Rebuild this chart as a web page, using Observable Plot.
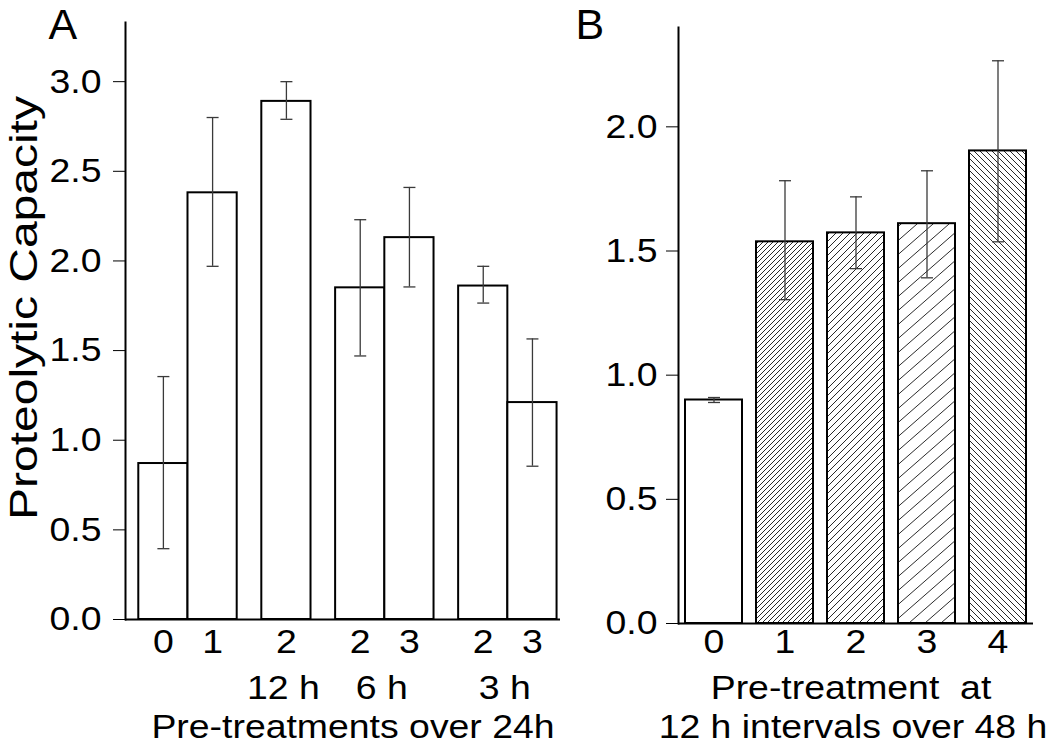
<!DOCTYPE html>
<html>
<head>
<meta charset="utf-8">
<script src="https://cdn.jsdelivr.net/npm/d3@7"></script>
<script src="https://cdn.jsdelivr.net/npm/@observablehq/plot@0.6"></script>
<style>
  body { margin: 0; background: #fff; }
  #wrap { position: relative; width: 1050px; height: 745px; overflow: hidden; background: #fff; }
  #wrap > svg { position: absolute; top: 0; }
</style>
</head>
<body>
<svg width="0" height="0" style="position:absolute">
  <defs>
    <pattern id="h-fine" patternUnits="userSpaceOnUse" width="5" height="5">
      <rect width="5" height="5" fill="#fff"/>
      <path d="M0,5L5,0M-1,1L1,-1M4,6L6,4" stroke="#111" stroke-width="0.9"/>
    </pattern>
    <pattern id="h-med" patternUnits="userSpaceOnUse" width="7" height="7">
      <rect width="7" height="7" fill="#fff"/>
      <path d="M0,7L7,0M-1,1L1,-1M6,8L8,6" stroke="#111" stroke-width="0.9"/>
    </pattern>
    <pattern id="h-wide" patternUnits="userSpaceOnUse" width="16" height="14">
      <rect width="16" height="14" fill="#fff"/>
      <path d="M0,14L16,0M-2,1.75L2,-1.75M14,15.75L18,12.25" stroke="#111" stroke-width="0.9"/>
    </pattern>
    <pattern id="h-back" patternUnits="userSpaceOnUse" width="6" height="6">
      <rect width="6" height="6" fill="#fff"/>
      <path d="M0,0L6,6M-1,5L1,7M5,-1L7,1" stroke="#111" stroke-width="0.9"/>
    </pattern>
  </defs>
</svg>
<div id="wrap"></div>
<script>
// ---------------- Data: panel A ----------------
const labelsA = ["0", "1", "2", "2", "3", "2", "3"];
const groupsA = ["", "", "12 h", "6 h", "6 h", "3 h", "3 h"];
const valuesA = [0.87, 2.38, 2.89, 1.85, 2.13, 1.86, 1.21];
const lowA    = [0.395, 1.97, 2.79, 1.47, 1.855, 1.765, 0.855];
const highA   = [1.355, 2.80, 3.00, 2.23, 2.41, 1.97, 1.565];
const yTicksA = [0, 0.5, 1.0, 1.5, 2.0, 2.5, 3.0];
const xTitleA = "Pre-treatments over 24h";
const yTitle  = "Proteolytic Capacity";

// ---------------- Data: panel B ----------------
const labelsB = ["0", "1", "2", "3", "4"];
const valuesB = [0.90, 1.537, 1.573, 1.61, 1.903];
const lowB    = [0.89, 1.304, 1.429, 1.392, 1.537];
const highB   = [0.91, 1.783, 1.718, 1.823, 2.266];
const yTicksB = [0, 0.5, 1.0, 1.5, 2.0];
const xTitleB1 = "Pre-treatment\u00a0 at";
const xTitleB2 = "12 h intervals over 48 h";

// ---------------- Styles ----------------
const FONT = "'Liberation Sans', Arial, Helvetica, sans-serif";
const ERR = "#3a3a3a";
const fillB = ["white", "url(#h-fine)", "url(#h-med)", "url(#h-wide)", "url(#h-back)"];
const capSym = { draw(ctx) { ctx.moveTo(-6, 0); ctx.lineTo(6, 0); } };

// Panel A slot layout: bars in the same group touch, half-bar gap between groups
let pos = 0;
const startA = groupsA.map((g, i) => {
  if (i > 0) pos += 1 + (g !== groupsA[i - 1] ? 0.5 : 0);
  return pos;
});
const dataA = labelsA.map((l, i) => ({
  label: l, group: groupsA[i], value: valuesA[i], lo: lowA[i], hi: highA[i],
  x1: startA[i], x2: startA[i] + 1, xc: startA[i] + 0.5
}));
const groupLabels = d3.groups(dataA.filter(d => d.group !== ""), d => d.group)
  .map(([g, arr]) => ({ group: g, xc: d3.mean(arr, d => d.xc) }));
const padA = 0.27;
const xDomA = [-padA, d3.max(dataA, d => d.x2) + 0.07];

const dataB = labelsB.map((l, i) => ({
  label: l, value: valuesB[i], lo: lowB[i], hi: highB[i], fill: fillB[i]
}));

const FS = "34px";

const plotA = Plot.plot({
  width: 565, height: 745,
  marginLeft: 125, marginRight: 5, marginTop: 22, marginBottom: 126,
  style: { fontFamily: FONT, fontSize: FS, color: "black", background: "transparent", overflow: "visible" },
  x: { type: "linear", domain: xDomA, axis: null },
  y: { domain: [0, 3.33], ticks: yTicksA, tickFormat: d3.format(".1f"), tickSize: 12, tickPadding: 12, label: null },
  marks: [
    Plot.rect(dataA, { x1: "x1", x2: "x2", y1: 0, y2: "value", fill: "white", stroke: "black", strokeWidth: 2 }),
    Plot.ruleX(dataA, { x: "xc", y1: "lo", y2: "hi", stroke: ERR, strokeWidth: 1.3 }),
    Plot.dot(dataA, { x: "xc", y: "lo", symbol: capSym, stroke: ERR, strokeWidth: 1.3, fill: "none" }),
    Plot.dot(dataA, { x: "xc", y: "hi", symbol: capSym, stroke: ERR, strokeWidth: 1.3, fill: "none" }),
    Plot.ruleY([0], { stroke: "black", strokeWidth: 2 }),
    Plot.frame({ anchor: "left", stroke: "black", strokeWidth: 2 }),
    Plot.text(dataA, { x: "xc", text: "label", frameAnchor: "bottom", lineAnchor: "bottom", dy: 33 }),
    Plot.text(groupLabels, { x: "xc", text: "group", frameAnchor: "bottom", lineAnchor: "bottom", dy: 79, dx: -3 }),
    Plot.text([xTitleA], { text: d => d, frameAnchor: "bottom", lineAnchor: "bottom", dy: 118, dx: 10 }),
    Plot.text([yTitle], { text: d => d, frameAnchor: "left", textAnchor: "middle", rotate: -90, lineAnchor: "bottom", dx: -89, dy: -13, fontSize: 39 }),
    Plot.text(["A"], { text: d => d, frameAnchor: "top-left", textAnchor: "start", lineAnchor: "bottom", dx: -77, dy: 16, fontSize: 43 })
  ]
});

const plotB = Plot.plot({
  width: 485, height: 745,
  marginLeft: 113, marginRight: 17, marginTop: 27, marginBottom: 122,
  style: { fontFamily: FONT, fontSize: FS, color: "black", background: "transparent", overflow: "visible" },
  x: { type: "band", domain: labelsB, paddingInner: 0.2, paddingOuter: 0.1, axis: null },
  y: { domain: [0, 2.4], ticks: yTicksB, tickFormat: d3.format(".1f"), tickSize: 12, tickPadding: 9, label: null },
  color: { type: "identity" },
  marks: [
    Plot.barY(dataB, { x: "label", y: "value", fill: "fill", stroke: "black", strokeWidth: 2 }),
    Plot.ruleX(dataB, { x: "label", y1: "lo", y2: "hi", stroke: ERR, strokeWidth: 1.3 }),
    Plot.dot(dataB, { x: "label", y: "lo", symbol: capSym, stroke: ERR, strokeWidth: 1.3, fill: "none" }),
    Plot.dot(dataB, { x: "label", y: "hi", symbol: capSym, stroke: ERR, strokeWidth: 1.3, fill: "none" }),
    Plot.ruleY([0], { stroke: "black", strokeWidth: 2 }),
    Plot.frame({ anchor: "left", stroke: "black", strokeWidth: 2 }),
    Plot.text(dataB, { x: "label", text: "label", frameAnchor: "bottom", lineAnchor: "bottom", dy: 29 }),
    Plot.text([xTitleB1], { text: d => d, frameAnchor: "bottom", lineAnchor: "bottom", dy: 75, dx: -5 }),
    Plot.text([xTitleB2], { text: d => d, frameAnchor: "bottom", lineAnchor: "bottom", dy: 114, dx: -3 }),
    Plot.text(["B"], { text: d => d, frameAnchor: "top-left", textAnchor: "start", lineAnchor: "bottom", dx: -103, dy: 11, fontSize: 43 })
  ]
});

const wrap = document.getElementById("wrap");
plotA.style.left = "0px";
plotB.style.left = "565px";
wrap.appendChild(plotA);
wrap.appendChild(plotB);

// Glyphs in the reference are wider than Arial's: stretch text along its own baseline.
function stretchText(svg, s) {
  svg.querySelectorAll("text").forEach(t => {
    const fs = parseFloat(getComputedStyle(t).fontSize);
    if (fs >= 43) return;
    const k = fs >= 39 ? 1.23 : s;
    let tr = t.getAttribute("transform") || "";
    const x = t.getAttribute("x");
    if (x != null && !/em$/.test(x)) { tr += ` translate(${x},0)`; t.removeAttribute("x"); }
    t.setAttribute("transform", (tr + ` scale(${k},1)`).trim());
  });
}
stretchText(plotA, 1.1);
stretchText(plotB, 1.1);
</script>
</body>
</html>
